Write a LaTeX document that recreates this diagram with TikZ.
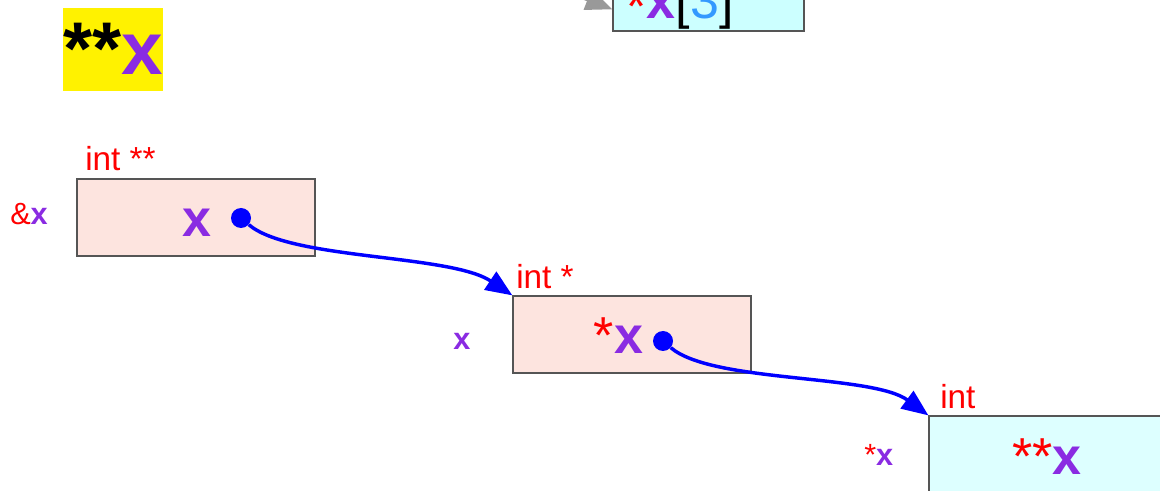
\documentclass[tikz,border=0pt]{standalone}
\usepackage{fontspec}
\setmainfont{Liberation Sans}
\usetikzlibrary{arrows.meta}
\definecolor{vio}{HTML}{8A2BE2}
\definecolor{pinkfill}{HTML}{FDE4DF}
\definecolor{cyanfill}{HTML}{DDFFFF}
\definecolor{cyantop}{HTML}{CCFFFF}
\definecolor{blu3}{HTML}{3399FF}
\definecolor{boxline}{HTML}{555555}
\definecolor{greyarrow}{HTML}{999999}
\tikzset{
  membox/.style={draw=boxline, line width=0.9pt, inner sep=0pt, minimum width=178.5pt, minimum height=57.75pt},
  bigtxt/.style={inner sep=0pt, anchor=base, font=\fontsize{39}{40}\selectfont},
  typelbl/.style={inner sep=0pt, anchor=base west, text=red, font=\fontsize{25}{26}\selectfont},
  addrlbl/.style={inner sep=0pt, anchor=base west, font=\fontsize{23}{24}\selectfont},
  dot/.style={circle, fill=blue, inner sep=0pt, minimum size=15pt},
  ptr/.style={blue, line width=2.6pt, -{Triangle[length=20pt,width=16pt]}},
}
\begin{document}
\begin{tikzpicture}[x=0.75pt,y=-0.75pt]
\useasboundingbox (0,0) rectangle (1160,491);
\clip (0,0) rectangle (1160,491);

% title
\node[fill=yellow, inner sep=0pt, minimum width=75pt, minimum height=62.25pt] (title) at (113,49.5) {};
\node[inner sep=0pt, anchor=base, font=\fontsize{56}{57}\selectfont\bfseries] (titletxt) at (113,75) {**\textcolor{vio}{x}};

% top box (partially visible)
\node[membox, fill=cyantop, minimum width=143.25pt, minimum height=40.5pt] (tb) at (708.5,4) {};
\coordinate (gsrc) at (548,-16);
\draw[greyarrow, line width=2.6pt, -{Triangle[length=20pt,width=16pt]}] (gsrc) -- ([yshift=-4pt]tb.west);
\node[bigtxt] (tbtxt) at (680,19) {\textcolor{red}{\raisebox{-4pt}{*}}\textcolor{vio}{\bfseries x}[\textcolor{blu3}{3}]};

% box 1
\node[membox, fill=pinkfill] (b1) at (196,217.5) {};
\node[typelbl] (l1) at (85,171) {int **};
\node[addrlbl] (a1) at (10,225) {\textcolor{red}{\&}\textcolor{vio}{\bfseries x}};
\node[bigtxt, text=vio, font=\fontsize{39}{40}\selectfont\bfseries] (t1) at (197,237) {x};

% box 2
\node[membox, fill=pinkfill] (b2) at (632,334.5) {};
\node[typelbl] (l2) at (516,289) {int *};
\node[addrlbl] (a2) at (453,350) {\textcolor{vio}{\bfseries x}};
\node[bigtxt] (t2) at (618.5,354) {\textcolor{red}{*}\textcolor{vio}{\bfseries x}};

% box 3
\node[membox, fill=cyanfill] (b3) at (1048,454.5) {};
\node[typelbl] (l3) at (940,408) {int};
\node[addrlbl] (a3) at (864,465) {\textcolor{red}{*}\textcolor{vio}{\bfseries x}};
\node[bigtxt] (t3) at (1047,474) {\textcolor{red}{**}\textcolor{vio}{\bfseries x}};

% pointers
\node[dot] (d1) at (241,218) {};
\node[dot] (d2) at (663,341) {};
\draw[ptr] (d1) .. controls (290,260) and (450,254) .. (b2.north west);
\draw[ptr] (d2) .. controls (712,383) and (872,374) .. (b3.north west);
\end{tikzpicture}
\end{document}
